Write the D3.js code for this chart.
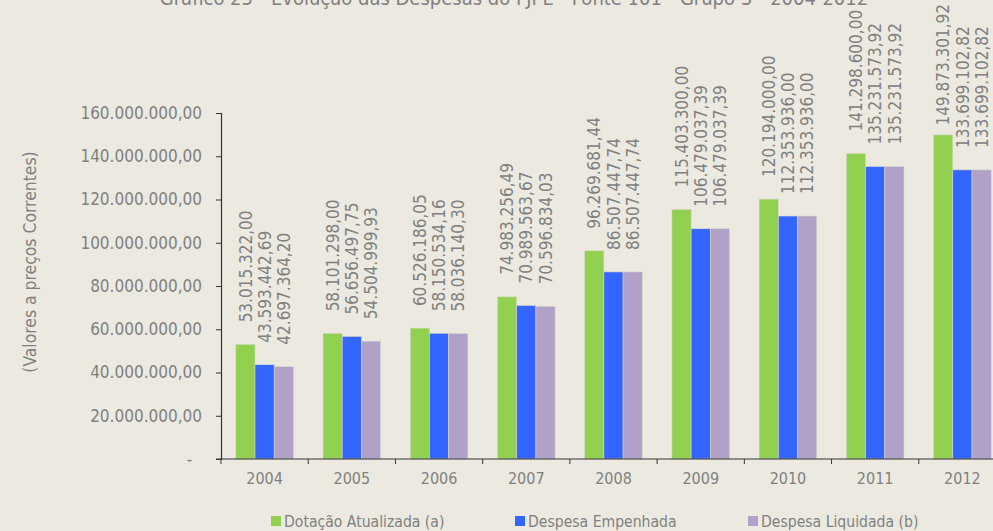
<!DOCTYPE html>
<html><head><meta charset="utf-8">
<script src="https://cdn.jsdelivr.net/npm/d3@7/dist/d3.min.js"></script>
<style>
html,body{margin:0;padding:0;background:#ECEAE0;}
svg{display:block;}
text{font-family:"DejaVu Sans Condensed","DejaVu Sans",sans-serif;fill:#808080;}
</style></head>
<body>
<svg id="chart" width="993" height="531"></svg>
<script>
const title = "Gráfico 25 - Evolução das Despesas do FJPE - Fonte 101 - Grupo 3 - 2004-2012";
const yAxisTitle = "(Valores a preços Correntes)";
const years = ["2004","2005","2006","2007","2008","2009","2010","2011","2012"];
const seriesNames = ["Dotação Atualizada (a)","Despesa Empenhada","Despesa Liquidada (b)"];
const dotacao = [53015322.00,58101298.00,60526186.05,74983256.49,96269681.44,115403300.00,120194000.00,141298600.00,149873301.92];
const empenhada = [43593442.69,56656497.75,58150534.16,70989563.67,86507447.74,106479037.39,112353936.00,135231573.92,133699102.82];
const liquidada = [42697364.20,54504999.93,58036140.30,70596834.03,86507447.74,106479037.39,112353936.00,135231573.92,133699102.82];
const yTicks = [0,20000000,40000000,60000000,80000000,100000000,120000000,140000000,160000000];
const colors = ["#92D050","#3366FF","#B1A0C7"];

const seriesValues = [dotacao, empenhada, liquidada];
const locale = d3.formatLocale({decimal:",", thousands:".", grouping:[3], currency:["",""]});
const fmt = locale.format(",.2f");

const svg = d3.select("#chart");
const x0 = d3.scaleBand().domain(years).range([221, 1006]).paddingInner(0).paddingOuter(0);
const x1 = d3.scaleBand().domain(seriesNames).range([0, x0.bandwidth()]).paddingInner(0).paddingOuter(0.77);
const y = d3.scaleLinear().domain([0, 160000000]).range([459, 113]);

// title (cut at the top edge, as in the reference)
svg.append("text").attr("x", 514).attr("y", 5).attr("text-anchor","middle")
  .style("font-size","20px").text(title);

// y axis title
svg.append("text").attr("transform","translate(36,262) rotate(-90)").attr("text-anchor","middle")
  .style("font-size","17.4px").text(yAxisTitle);

// bars
const rows = years.map((yr,i)=>({year:yr, vals: seriesNames.map((s,j)=>({s, j, v: seriesValues[j][i]}))}));
const g = svg.append("g");
const grp = g.selectAll("g.grp").data(rows).join("g").attr("class","grp")
  .attr("transform", d=>`translate(${x0(d.year)},0)`);
grp.selectAll("rect").data(d=>d.vals).join("rect")
  .attr("x", d=>x1(d.s)).attr("width", x1.bandwidth())
  .attr("y", d=>y(d.v)).attr("height", d=>y(0)-y(d.v))
  .attr("fill", d=>colors[d.j]).attr("stroke","#D8D6CC").attr("stroke-width",0.6);

// value labels
grp.selectAll("text.val").data(d=>d.vals).join("text").attr("class","val")
  .style("font-size","17px")
  .text(d=>fmt(d.v))
  .each(function(d){
    const len = this.getComputedTextLength();
    let yy = y(d.v) - 22;
    if (yy - len < 4) yy = 4 + len;
    d3.select(this).attr("transform", `translate(${x1(d.s)+x1.bandwidth()/2},${yy}) rotate(-90)`)
      .attr("dy","0.36em");
  });

// y axis
const yAxis = d3.axisLeft(y).tickValues(yTicks).tickSize(5).tickPadding(14)
  .tickFormat(d=> d===0 ? "-\u00a0\u00a0" : fmt(d));
const ya = svg.append("g").attr("transform","translate(221,0)").call(yAxis);
ya.select(".domain").attr("stroke","#333").attr("stroke-width",1.2);
ya.selectAll(".tick line").attr("stroke","#333");
ya.selectAll(".tick text").style("font-size","17px").attr("fill","#808080").style("font-family",'"DejaVu Sans Condensed","DejaVu Sans",sans-serif');

// x axis
svg.append("line").attr("x1",216).attr("x2",1006).attr("y1",y(0)).attr("y2",y(0)).attr("stroke","#333").attr("stroke-width",1.2);
const bounds = years.map(d=>x0(d)).concat([x0.range()[1]]);
svg.append("g").selectAll("line").data(bounds).join("line")
  .attr("x1",d=>d).attr("x2",d=>d).attr("y1",y(0)).attr("y2",y(0)+5).attr("stroke","#333");
svg.append("g").selectAll("text").data(years).join("text")
  .attr("x",d=>x0(d)+x0.bandwidth()/2).attr("y",484).attr("text-anchor","middle")
  .style("font-size","16px").text(d=>d);

// legend
const legX = [271, 515, 748];
const leg = svg.append("g").selectAll("g").data(seriesNames).join("g")
  .attr("transform",(d,i)=>`translate(${legX[i]},0)`);
leg.append("rect").attr("x",0).attr("y",516).attr("width",10).attr("height",10).attr("fill",(d,i)=>colors[i]);
leg.append("text").attr("x",13).attr("y",527).style("font-size","15.6px").text(d=>d);
</script>
</body></html>
